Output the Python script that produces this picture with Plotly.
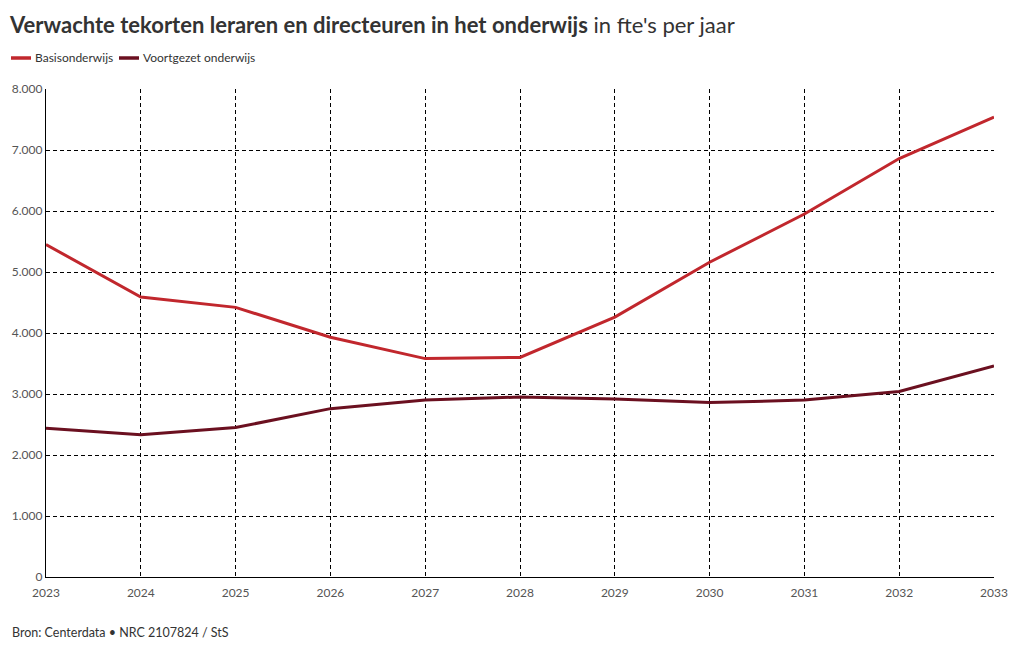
import plotly.graph_objects as go

years = [2023, 2024, 2025, 2026, 2027, 2028, 2029, 2030, 2031, 2032, 2033]
basisonderwijs = [5450, 4590, 4420, 3930, 3580, 3600, 4260, 5160, 5950, 6860, 7540]
voortgezet = [2440, 2330, 2450, 2760, 2900, 2950, 2920, 2860, 2900, 3040, 3460]
y_ticks = [0, 1000, 2000, 3000, 4000, 5000, 6000, 7000, 8000]
series_names = ["Basisonderwijs", "Voortgezet onderwijs"]
series_colors = ["#c1272d", "#6b1020"]

FONT = "Lato, 'Source Sans Pro', 'Noto Sans', sans-serif"

W, H = 1004, 634
L, R, T, B = 38, 18, 81, 65
PW = W - L - R
PH = H - T - B

def px_x(X):  # page pixel -> paper x (page has 8px body margin)
    return (X - 8 - L) / PW

def px_y(Y):
    return (H - B - (Y - 8)) / PH

fig = go.Figure()
fig.add_trace(go.Scatter(x=years, y=basisonderwijs, mode="lines", name=series_names[0],
                         line=dict(color=series_colors[0], width=3)))
fig.add_trace(go.Scatter(x=years, y=voortgezet, mode="lines", name=series_names[1],
                         line=dict(color=series_colors[1], width=3)))

fig.update_layout(
    width=W, height=H,
    paper_bgcolor="white", plot_bgcolor="white",
    margin=dict(l=L, r=R, t=T, b=B, autoexpand=False),
    font=dict(family=FONT, color="#333333", size=12),
    separators=",.",
    title=dict(text="<b>Verwachte tekorten leraren en directeuren in het onderwijs</b> <span style='font-weight:normal'>in fte's per jaar</span>",
               xref="container", x=(10 - 8) / W, xanchor="left",
               yref="container", y=1 - (25 - 8) / H, yanchor="middle",
               font=dict(size=22, color="#333333", family=FONT)),
    showlegend=False,
)
fig.update_xaxes(range=[2023, 2033], tickvals=years, ticktext=[str(y) for y in years],
                 showgrid=True, gridcolor="black", griddash="4px,3px", gridwidth=1,
                 showline=True, linecolor="black", linewidth=1.2, automargin=False,
                 ticks="", ticklabelstandoff=4,
                 tickfont=dict(size=12, color="#555555"), zeroline=False)
fig.update_yaxes(range=[0, 8000], tickvals=y_ticks, tickformat=",d",
                 showgrid=True, gridcolor="black", griddash="4px,3px", gridwidth=1,
                 showline=True, linecolor="black", linewidth=1.2, automargin=False,
                 ticks="", tickfont=dict(size=12, color="#555555"), zeroline=False)

# custom legend (swatches + labels)
legend_x = [(11, 31, 33), (119, 139, 141)]
for (x0, x1, xt), name, col in zip(legend_x, series_names, series_colors):
    fig.add_shape(type="line", xref="paper", yref="paper",
                  x0=px_x(x0), x1=px_x(x1), y0=px_y(58), y1=px_y(58),
                  line=dict(color=col, width=3.5))
    fig.add_annotation(text=name, xref="paper", yref="paper", x=px_x(xt), xanchor="left",
                       y=px_y(58), yanchor="middle", showarrow=False,
                       font=dict(size=12, color="#333333"))

fig.add_annotation(text="Bron: Centerdata • NRC 2107824 / StS", xref="paper", yref="paper",
                   x=px_x(10), xanchor="left", y=px_y(632), yanchor="middle", showarrow=False,
                   font=dict(size=12.5, color="#333333"))

fig.write_html("out.html")
